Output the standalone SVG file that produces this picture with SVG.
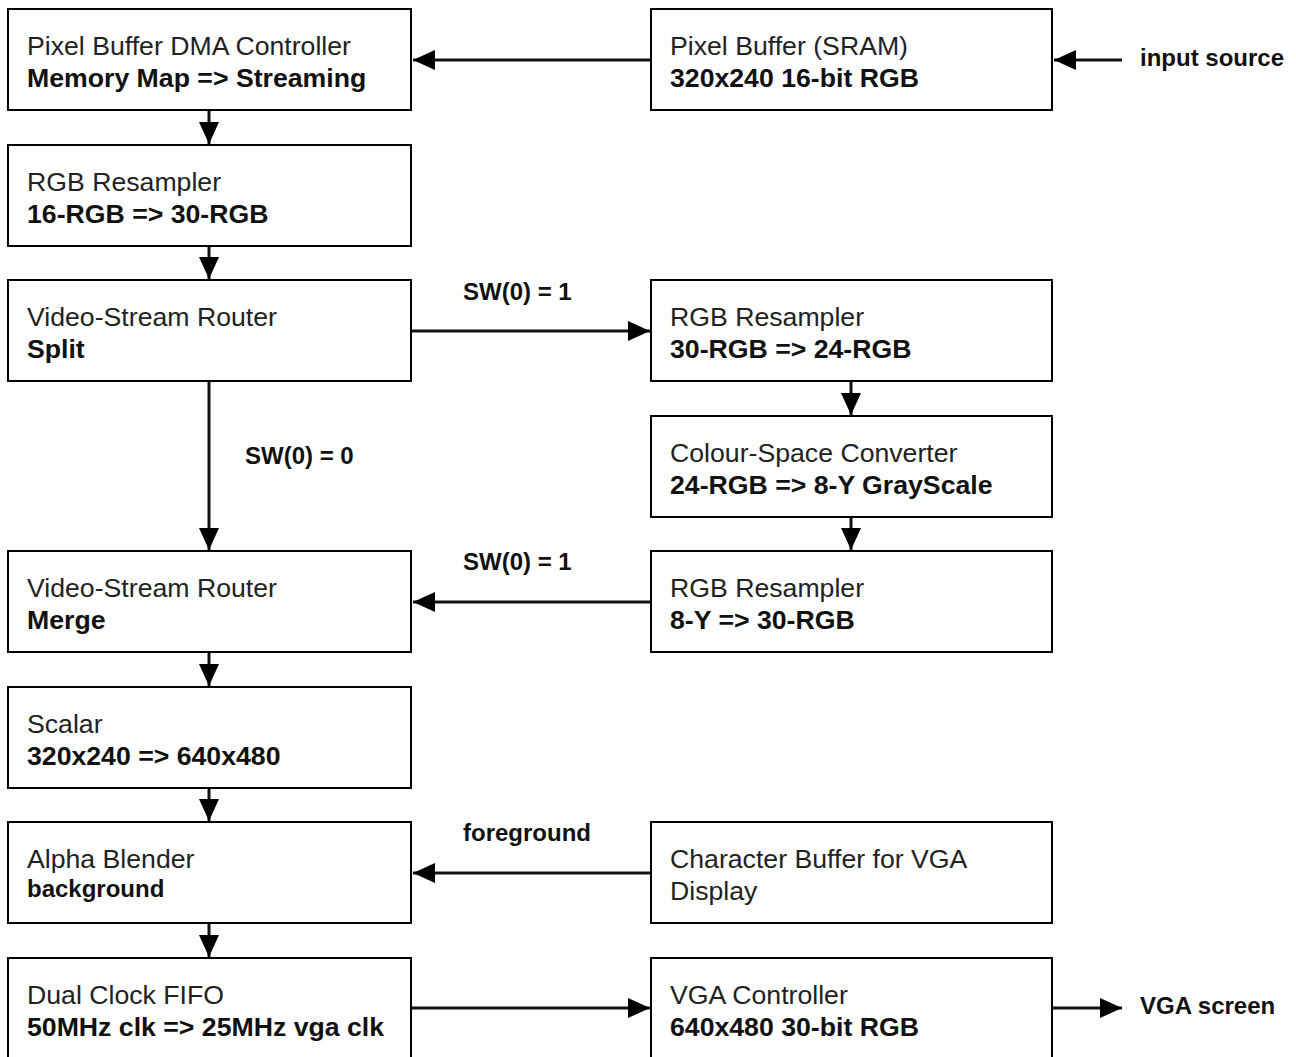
<svg xmlns="http://www.w3.org/2000/svg" width="1296" height="1057" viewBox="0 0 1296 1057">
<defs>
<style>
.box{fill:#fff;stroke:#000;stroke-width:2}
.t{font-family:"Liberation Sans",Arial,sans-serif;font-size:26.67px;fill:#222}
.b{font-family:"Liberation Sans",Arial,sans-serif;font-size:26.67px;font-weight:bold;fill:#111}
.lb{font-family:"Liberation Sans",Arial,sans-serif;font-size:24px;font-weight:bold;fill:#111}
.c{fill:none;stroke:#111;stroke-width:3}
</style>
<marker id="ah" markerUnits="userSpaceOnUse" markerWidth="24" markerHeight="22" refX="22" refY="10" orient="auto">
<path d="M0,0 L22,10 L0,20 Z" fill="#000"/>
</marker>
</defs>
<rect width="1296" height="1057" fill="#fff"/>
<g id="connectors">
<line class="c" x1="651" y1="60" x2="413" y2="60" marker-end="url(#ah)"/>
<line class="c" x1="1122" y1="60" x2="1054" y2="60" marker-end="url(#ah)"/>
<line class="c" x1="209" y1="110" x2="209" y2="144" marker-end="url(#ah)"/>
<line class="c" x1="209" y1="246" x2="209" y2="279" marker-end="url(#ah)"/>
<line class="c" x1="411" y1="331" x2="650" y2="331" marker-end="url(#ah)"/>
<line class="c" x1="209" y1="381" x2="209" y2="550" marker-end="url(#ah)"/>
<line class="c" x1="851" y1="381" x2="851" y2="415" marker-end="url(#ah)"/>
<line class="c" x1="851" y1="517" x2="851" y2="550" marker-end="url(#ah)"/>
<line class="c" x1="651" y1="602" x2="413" y2="602" marker-end="url(#ah)"/>
<line class="c" x1="209" y1="652" x2="209" y2="686" marker-end="url(#ah)"/>
<line class="c" x1="209" y1="788" x2="209" y2="821" marker-end="url(#ah)"/>
<line class="c" x1="651" y1="873" x2="413" y2="873" marker-end="url(#ah)"/>
<line class="c" x1="209" y1="923" x2="209" y2="957" marker-end="url(#ah)"/>
<line class="c" x1="411" y1="1008" x2="650" y2="1008" marker-end="url(#ah)"/>
<line class="c" x1="1052" y1="1008" x2="1122" y2="1008" marker-end="url(#ah)"/>
<text class="lb" x="1140" y="66">input source</text>
<text class="lb" x="463" y="300">SW(0) = 1</text>
<text class="lb" x="245" y="464">SW(0) = 0</text>
<text class="lb" x="463" y="570">SW(0) = 1</text>
<text class="lb" x="463" y="841">foreground</text>
<text class="lb" x="1140" y="1014">VGA screen</text>
</g>
<g id="dma"><rect class="box" x="8" y="9" width="403" height="101"/><text class="t" x="27" y="55">Pixel Buffer DMA Controller</text><text class="b" x="27" y="87">Memory Map =&gt; Streaming</text></g>
<g id="pixbuf"><rect class="box" x="651" y="9" width="401" height="101"/><text class="t" x="670" y="55">Pixel Buffer (SRAM)</text><text class="b" x="670" y="87">320x240 16-bit RGB</text></g>
<g id="rgb1"><rect class="box" x="8" y="145" width="403" height="101"/><text class="t" x="27" y="191">RGB Resampler</text><text class="b" x="27" y="223">16-RGB =&gt; 30-RGB</text></g>
<g id="split"><rect class="box" x="8" y="280" width="403" height="101"/><text class="t" x="27" y="326">Video-Stream Router</text><text class="b" x="27" y="358">Split</text></g>
<g id="rgb2"><rect class="box" x="651" y="280" width="401" height="101"/><text class="t" x="670" y="326">RGB Resampler</text><text class="b" x="670" y="358">30-RGB =&gt; 24-RGB</text></g>
<g id="csc"><rect class="box" x="651" y="416" width="401" height="101"/><text class="t" x="670" y="462">Colour-Space Converter</text><text class="b" x="670" y="494">24-RGB =&gt; 8-Y GrayScale</text></g>
<g id="merge"><rect class="box" x="8" y="551" width="403" height="101"/><text class="t" x="27" y="597">Video-Stream Router</text><text class="b" x="27" y="629">Merge</text></g>
<g id="rgb3"><rect class="box" x="651" y="551" width="401" height="101"/><text class="t" x="670" y="597">RGB Resampler</text><text class="b" x="670" y="629">8-Y =&gt; 30-RGB</text></g>
<g id="scalar"><rect class="box" x="8" y="687" width="403" height="101"/><text class="t" x="27" y="733">Scalar</text><text class="b" x="27" y="765">320x240 =&gt; 640x480</text></g>
<g id="alpha"><rect class="box" x="8" y="822" width="403" height="101"/><text class="t" x="27" y="868">Alpha Blender</text><text class="lb" x="27" y="897">background</text></g>
<g id="charbuf"><rect class="box" x="651" y="822" width="401" height="101"/><text class="t" x="670" y="868">Character Buffer for VGA</text><text class="t" x="670" y="900">Display</text></g>
<g id="fifo"><rect class="box" x="8" y="958" width="403" height="101"/><text class="t" x="27" y="1004">Dual Clock FIFO</text><text class="b" x="27" y="1036">50MHz clk =&gt; 25MHz vga clk</text></g>
<g id="vga"><rect class="box" x="651" y="958" width="401" height="101"/><text class="t" x="670" y="1004">VGA Controller</text><text class="b" x="670" y="1036">640x480 30-bit RGB</text></g>
</svg>
